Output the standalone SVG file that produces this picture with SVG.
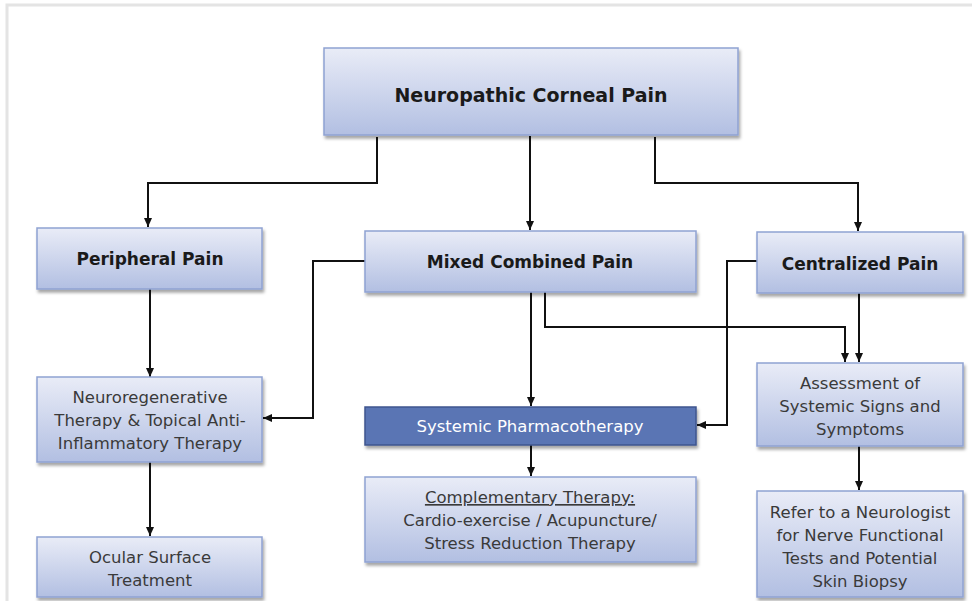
<svg xmlns="http://www.w3.org/2000/svg" width="972" height="601" viewBox="0 0 972 601">
<defs>
<linearGradient id="g" x1="0" y1="0" x2="0" y2="1">
<stop offset="0" stop-color="#e9ecf7"/>
<stop offset="1" stop-color="#b2bfe2"/>
</linearGradient>
<filter id="sh" x="-10%" y="-10%" width="125%" height="140%">
<feDropShadow dx="1.5" dy="3" stdDeviation="1.8" flood-color="#000" flood-opacity="0.35"/>
</filter>
<marker id="ah" markerWidth="10" markerHeight="10" refX="9" refY="5" orient="auto" markerUnits="userSpaceOnUse">
<path d="M0,1 L9,5 L0,9 z" fill="#111"/>
</marker>
</defs>
<style>
.box{fill:url(#g);stroke:#8fa2d2;stroke-width:1.5;filter:url(#sh)}
.dark{fill:#5a75b4;stroke:#3f568e;stroke-width:1.5;filter:url(#sh)}
.t{font-family:"DejaVu Sans",sans-serif;font-weight:bold;font-size:17px;fill:#1a1a1a;text-anchor:middle}
.big{font-size:19px}
.s{font-family:"DejaVu Sans",sans-serif;font-size:16.5px;fill:#3a3a3a;text-anchor:middle}
.w{font-family:"DejaVu Sans",sans-serif;font-size:16.5px;fill:#ffffff;text-anchor:middle}
.c{fill:none;stroke:#111;stroke-width:2;marker-end:url(#ah)}
</style>
<rect width="972" height="601" fill="#ffffff"/>
<path d="M7,601 V5 H972" fill="none" stroke="#e4e4e4" stroke-width="3"/>

<g id="connectors">
<path class="c" d="M377,137 V183 H148 V227"/>
<path class="c" d="M530,136 V230"/>
<path class="c" d="M655,137 V183 H858 V231"/>
<path class="c" d="M150,289 V377"/>
<path class="c" d="M365,261 H313 V418 H263"/>
<path class="c" d="M531,292 V406"/>
<path class="c" d="M545,292 V327 H845 V362"/>
<path class="c" d="M859,293 V362"/>
<path class="c" d="M757,261 H727 V425 H697"/>
<path class="c" d="M150,462 V536"/>
<path class="c" d="M531,445 V476"/>
<path class="c" d="M859,446 V490"/>
</g>

<g id="n-root">
<rect class="box" x="324" y="48" width="414" height="87"/>
<text class="t big" x="531" y="102">Neuropathic Corneal Pain</text>
</g>
<g id="n-peripheral">
<rect class="box" x="37" y="228" width="225" height="61"/>
<text class="t" x="150" y="265">Peripheral Pain</text>
</g>
<g id="n-mixed">
<rect class="box" x="365" y="231" width="331" height="61"/>
<text class="t" x="530" y="268">Mixed Combined Pain</text>
</g>
<g id="n-central">
<rect class="box" x="757" y="232" width="206" height="61"/>
<text class="t" x="860" y="270">Centralized Pain</text>
</g>
<g id="n-neuro">
<rect class="box" x="37" y="377" width="225" height="85"/>
<text class="s" x="150" y="403">Neuroregenerative</text>
<text class="s" x="150" y="426">Therapy &amp; Topical Anti-</text>
<text class="s" x="150" y="449">Inflammatory Therapy</text>
</g>
<g id="n-systemic">
<rect class="dark" x="365" y="407" width="331" height="38"/>
<text class="w" x="530" y="432">Systemic Pharmacotherapy</text>
</g>
<g id="n-assess">
<rect class="box" x="757" y="363" width="206" height="83"/>
<text class="s" x="860" y="389">Assessment of</text>
<text class="s" x="860" y="412">Systemic Signs and</text>
<text class="s" x="860" y="435">Symptoms</text>
</g>
<g id="n-compl">
<rect class="box" x="365" y="477" width="331" height="85"/>
<text class="s" x="530" y="503" text-decoration="underline">Complementary Therapy:</text>
<text class="s" x="530" y="526">Cardio-exercise / Acupuncture/</text>
<text class="s" x="530" y="549">Stress Reduction Therapy</text>
</g>
<g id="n-ocular">
<rect class="box" x="37" y="537" width="225" height="60"/>
<text class="s" x="150" y="563">Ocular Surface</text>
<text class="s" x="150" y="586">Treatment</text>
</g>
<g id="n-refer">
<rect class="box" x="757" y="491" width="206" height="106"/>
<text class="s" x="860" y="518">Refer to a Neurologist</text>
<text class="s" x="860" y="541">for Nerve Functional</text>
<text class="s" x="860" y="564">Tests and Potential</text>
<text class="s" x="860" y="587">Skin Biopsy</text>
</g>
</svg>
